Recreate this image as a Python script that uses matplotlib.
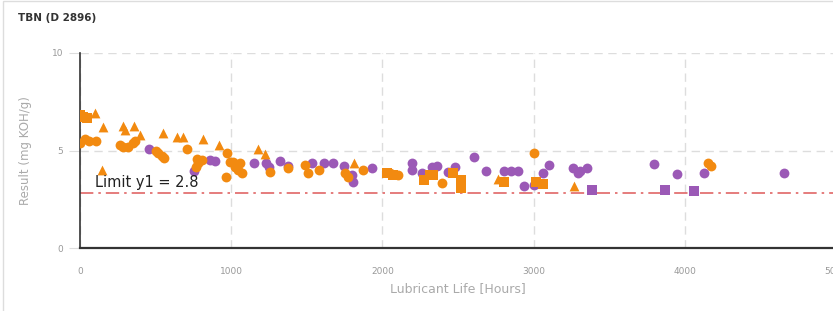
import matplotlib.pyplot as plt
from matplotlib.patches import Rectangle

# orange series (circles / triangles / squares)
or_circ_x = [0, 33, 60, 106, 265, 285, 318, 351, 364, 503, 517, 543, 556, 709, 768, 775, 781, 808,
             967, 974, 993, 1013, 1026, 1046, 1060, 1073, 1258, 1377, 1490, 1510, 1583, 1755, 1775,
             1874, 2053, 2106, 2397, 3000, 4152, 4172]
or_circ_y = [5.4, 5.6, 5.5, 5.5, 5.3, 5.2, 5.2, 5.4, 5.5, 5.0, 4.85, 4.7, 4.6, 5.1, 4.15, 4.55, 4.35, 4.5,
             3.65, 4.85, 4.4, 4.4, 4.15, 4.0, 4.35, 3.85, 3.9, 4.1, 4.25, 3.85, 4.0, 3.85, 3.65,
             4.0, 3.85, 3.75, 3.35, 4.85, 4.35, 4.2]
or_tri_x = [100, 146, 152, 285, 298, 358, 397, 550, 642, 682, 815, 920, 1180, 1225, 1815, 2762, 3265]
or_tri_y = [6.9, 4.0, 6.2, 6.25, 6.05, 6.25, 5.8, 5.9, 5.7, 5.7, 5.6, 5.3, 5.1, 4.8, 4.35, 3.55, 3.2]
or_sq_x = [0, 20, 46, 2033, 2073, 2272, 2318, 2335, 2470, 2517, 2523, 2801, 3013, 3060]
or_sq_y = [6.8, 6.7, 6.65, 3.85, 3.75, 3.5, 3.75, 3.75, 3.85, 3.5, 3.1, 3.4, 3.4, 3.3]

# purple series (circles / squares)
pu_circ_x = [457, 755, 861, 894, 1152, 1232, 1252, 1325, 1377, 1536, 1616, 1675, 1748, 1801, 1808,
             1934, 2199, 2199, 2265, 2331, 2364, 2437, 2483, 2603, 2682, 2801, 2848, 2894, 2934,
             3000, 3060, 3099, 3258, 3291, 3310, 3351, 3795, 3947, 4126, 4656]
pu_circ_y = [5.1, 3.95, 4.5, 4.45, 4.35, 4.35, 4.15, 4.45, 4.2, 4.35, 4.35, 4.35, 4.2, 3.75, 3.4,
             4.1, 4.35, 4.0, 3.85, 4.15, 4.2, 3.9, 4.15, 4.65, 3.95, 3.95, 3.95, 3.95, 3.2,
             3.25, 3.85, 4.25, 4.1, 3.85, 3.95, 4.1, 4.3, 3.8, 3.85, 3.85]
pu_sq_x = [3384, 3868, 4060]
pu_sq_y = [2.95, 2.95, 2.9]

limit = 2.8
orange = "#F28A10"
purple = "#9B59B6"


def main():
    fig = plt.figure(figsize=(8.33, 3.11), dpi=100)
    fig.patches.append(Rectangle((3 / 833, -0.1), 1.1, 1.1 - 1 / 311, transform=fig.transFigure,
                                 fill=False, edgecolor="#dddddd", linewidth=1))
    ax = fig.add_axes([80 / 833, 63 / 311, 756 / 833, 195 / 311])

    ms = 50
    ax.scatter(pu_circ_x, pu_circ_y, s=ms, color=purple, marker="o", linewidths=0, zorder=3)
    ax.scatter(pu_sq_x, pu_sq_y, s=ms, color=purple, marker="s", linewidths=0, zorder=3)
    ax.scatter(or_circ_x, or_circ_y, s=ms, color=orange, marker="o", linewidths=0, zorder=4)
    ax.scatter(or_tri_x, or_tri_y, s=ms, color=orange, marker="^", linewidths=0, zorder=4)
    ax.scatter(or_sq_x, or_sq_y, s=ms, color=orange, marker="s", linewidths=0, zorder=4)

    ax.axhline(limit, color="#E06666", linewidth=1.2, linestyle=(0, (8, 3, 1.5, 3)), zorder=2)
    ax.text(100, limit + 0.35, "Limit y1 = 2.8", fontsize=10.5, color="#222222", zorder=5)

    ax.set_xlim(0, 5000)
    ax.set_ylim(0, 10)
    ax.set_xticks([0, 1000, 2000, 3000, 4000, 5000])
    ax.set_yticks([0, 5, 10])
    ax.grid(True, color="#dddddd", linestyle=(0, (6, 4)), linewidth=1)
    ax.set_axisbelow(True)

    for s in ["top", "right"]:
        ax.spines[s].set_visible(False)
    ax.spines["left"].set_color("#333333")
    ax.spines["bottom"].set_color("#333333")
    ax.spines["left"].set_linewidth(1.2)
    ax.spines["bottom"].set_linewidth(1.6)

    ax.tick_params(axis="y", length=8, color="#dddddd", labelsize=6.5, labelcolor="#999999", pad=4)
    ax.tick_params(axis="x", length=0, labelsize=6.5, labelcolor="#999999", pad=14)

    ax.set_xlabel("Lubricant Life [Hours]", fontsize=9, color="#aaaaaa", labelpad=4)
    ax.set_ylabel("Result (mg KOH/g)", fontsize=8.5, color="#aaaaaa", labelpad=14)

    fig.text(18 / 833, 1 - 18 / 311, "TBN (D 2896)", fontsize=7.5, fontweight="bold",
             color="#333333", va="center", ha="left")

    fig.savefig("out.png", dpi=100)


if __name__ == "__main__":
    main()
